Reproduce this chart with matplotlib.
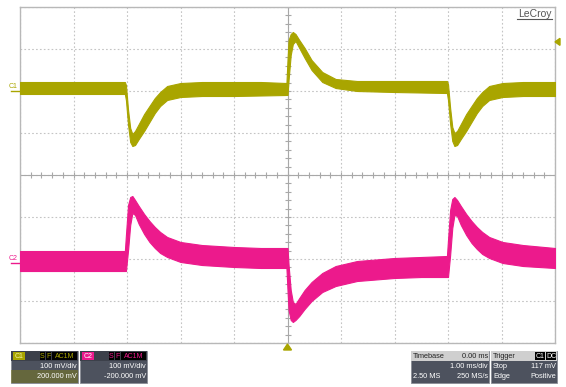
import matplotlib
matplotlib.use("Agg")
import matplotlib.pyplot as plt
from matplotlib.patches import Rectangle, Polygon
import numpy as np

plt.rcParams['font.family'] = ['Liberation Sans', 'DejaVu Sans']

# time (ms), shared by both channels
t_ms = [-5.0, -3.04, -3.02, -2.98, -2.94, -2.90, -2.85, -2.78, -2.68, -2.58, -2.48, -2.38, -2.25, -2.0, -1.6, -1.0, -0.5,
        -0.02, 0.0, 0.02, 0.06, 0.10, 0.15, 0.22, 0.32, 0.45, 0.65, 0.9, 1.3, 2.0, 2.5,
        2.98, 3.0, 3.04, 3.08, 3.12, 3.17, 3.24, 3.34, 3.44, 3.54, 3.64, 3.77, 4.02, 4.4, 5.0]

# C1 noise band, upper / lower edge (mV)
c1_up = [21.4, 21.4, 14.3, -45.2, -88.1, -102.4, -95.2, -78.6, -54.8, -35.7, -16.7, -2.4, 11.9, 19.0, 21.4, 21.4, 21.4,
         19.0, 73.8, 121.4, 135.7, 140.5, 135.7, 121.4, 102.4, 73.8, 45.2, 28.6, 23.8, 23.8, 23.8,
         23.8, 16.7, -40.5, -85.7, -100.0, -95.2, -78.6, -54.8, -35.7, -16.7, -2.4, 11.9, 19.0, 21.4, 21.4]
c1_lo = [-7.1, -7.1, -21.4, -81.0, -121.4, -131.0, -128.6, -114.3, -95.2, -73.8, -52.4, -35.7, -21.4, -14.3, -11.9, -11.9, -10.7,
         -9.5, -9.5, 26.2, 85.7, 111.9, 119.0, 102.4, 78.6, 50.0, 21.4, 7.1, 0.0, -2.4, -3.6,
         -4.8, -21.4, -78.6, -119.0, -131.0, -128.6, -114.3, -95.2, -73.8, -52.4, -35.7, -21.4, -14.3, -11.9, -11.9]

# C2 noise band, upper / lower edge (mV)
c2_up = [19.0, 19.0, 57.1, 128.6, 147.6, 150.0, 140.5, 126.2, 107.1, 90.5, 76.2, 64.3, 52.4, 40.5, 33.3, 28.6, 26.2,
         26.2, 26.2, -14.3, -73.8, -102.4, -107.1, -92.9, -73.8, -54.8, -33.3, -16.7, -4.8, 2.4, 4.8,
         7.1, 45.2, 116.7, 142.9, 147.6, 140.5, 126.2, 107.1, 90.5, 76.2, 64.3, 52.4, 40.5, 33.3, 26.2]
c2_lo = [-28.6, -28.6, -28.6, 21.4, 81.0, 109.5, 104.8, 83.3, 59.5, 40.5, 26.2, 14.3, 4.8, -7.1, -14.3, -19.0, -21.4,
         -21.4, -73.8, -121.4, -145.2, -150.0, -145.2, -135.7, -119.0, -100.0, -78.6, -64.3, -52.4, -45.2, -42.9,
         -42.9, -42.9, 9.5, 73.8, 104.8, 102.4, 81.0, 57.1, 38.1, 23.8, 11.9, 2.4, -9.5, -16.7, -21.4]

c1_offset = 200   # mV
c2_offset = -200  # mV
trig_level = 117  # mV

yellow = '#a9a500'
pink = '#ec1a8c'

W, H = 566, 387
fig = plt.figure(figsize=(W / 100, H / 100), dpi=100)
fig.patch.set_facecolor('white')

ax = fig.add_axes([20 / W, 44 / H, 535 / W, 336 / H])
ax.set_xlim(-5, 5)
ax.set_ylim(-400, 400)
ax.set_xticks(np.arange(-5, 6, 1))
ax.set_yticks(np.arange(-400, 401, 100))
ax.tick_params(length=0, labelbottom=False, labelleft=False)
ax.grid(True, color='#c4c4c4', linestyle=(0, (1.5, 2)), linewidth=0.8)
for s in ax.spines.values():
    s.set_color('#b8b8b8')
    s.set_linewidth(1.0)

# centre cross with small ticks
ax.axhline(0, color='#a8a8a8', lw=0.8)
ax.axvline(0, color='#a8a8a8', lw=0.8)
xt = np.arange(-5, 5.01, 0.2)
ax.plot(xt, np.zeros_like(xt), ls='none', marker='|', ms=4, mew=0.8, color='#a8a8a8')
yt = np.arange(-400, 401, 20)
ax.plot(np.zeros_like(yt), yt, ls='none', marker='_', ms=4, mew=0.8, color='#a8a8a8')

t = np.array(t_ms)
ax.fill_between(t, np.array(c1_up) + c1_offset, np.array(c1_lo) + c1_offset,
                color=yellow, lw=0.8, zorder=3)
ax.fill_between(t, np.array(c2_up) + c2_offset, np.array(c2_lo) + c2_offset,
                color=pink, lw=0.8, zorder=3)

# overlay in pixel coordinates for the scope furniture
ov = fig.add_axes([0, 0, 1, 1], zorder=5)
ov.set_xlim(0, W)
ov.set_ylim(H, 0)
ov.axis('off')
ov.patch.set_alpha(0)

ov.text(552, 14, 'LeCroy', fontsize=7.5, color='#555555', ha='right', va='center')
ov.plot([517, 552], [19, 19], color='#555555', lw=0.8)

# channel ground markers
ov.text(9, 86, 'C1', fontsize=5, color=yellow, va='center', ha='left')
ov.plot([11, 20], [91, 91], color=yellow, lw=1)
ov.text(9, 258, 'C2', fontsize=5, color=pink, va='center', ha='left')
ov.plot([11, 20], [263, 263], color=pink, lw=1)

# trigger markers
y_trig = 7 + (400 - (trig_level + c1_offset)) * 336 / 800
ov.add_patch(Polygon([[560, y_trig - 3.5], [560, y_trig + 3.5], [555, y_trig]], color=yellow))
ov.add_patch(Polygon([[283.5, 350], [291.5, 350], [287.5, 344]], color=yellow))


def box(x0, x1, header_bg):
    ov.add_patch(Rectangle((x0, 351), x1 - x0, 32, facecolor='#4d525e', edgecolor='#8a8d95', lw=0.6))
    ov.add_patch(Rectangle((x0, 351), x1 - x0, 10, facecolor=header_bg, edgecolor='none'))


def badge(x, y, s, fg, bg, w):
    ov.add_patch(Rectangle((x, y - 4), w, 8, facecolor=bg, edgecolor='none'))
    ov.text(x + w / 2, y, s, fontsize=5, color=fg, ha='center', va='center')


fs = 5.3
# C1 box
box(11, 78, '#3c404a')
ov.add_patch(Rectangle((11, 370), 67, 13, facecolor='#7a7a22', alpha=0.55, edgecolor='none'))
badge(13, 356, 'C1', '#f2f2a0', yellow, 12)
badge(40, 356, 'S', yellow, 'black', 5)
badge(46, 356, 'F', yellow, 'black', 5)
badge(52, 356, 'AC1M', yellow, 'black', 25)
ov.text(77, 366, '100 mV/div', fontsize=fs, color='white', ha='right', va='center')
ov.text(77, 377, '200.000 mV', fontsize=fs, color='white', ha='right', va='center')

# C2 box
box(80, 147, '#3c404a')
badge(82, 356, 'C2', 'white', pink, 12)
badge(109, 356, 'S', pink, 'black', 5)
badge(115, 356, 'F', pink, 'black', 5)
badge(121, 356, 'AC1M', pink, 'black', 25)
ov.text(146, 366, '100 mV/div', fontsize=fs, color='white', ha='right', va='center')
ov.text(146, 377, '-200.000 mV', fontsize=fs, color='white', ha='right', va='center')

# Timebase box
box(411, 489, '#cfcfcf')
ov.text(413, 356, 'Timebase', fontsize=fs, color='#222222', ha='left', va='center')
ov.text(488, 356, '0.00 ms', fontsize=fs, color='#222222', ha='right', va='center')
ov.text(488, 366, '1.00 ms/div', fontsize=fs, color='white', ha='right', va='center')
ov.text(413, 376, '2.50 MS', fontsize=fs, color='white', ha='left', va='center')
ov.text(488, 376, '250 MS/s', fontsize=fs, color='white', ha='right', va='center')

# Trigger box
box(491, 557, '#cfcfcf')
ov.text(493, 356, 'Trigger', fontsize=fs, color='#222222', ha='left', va='center')
badge(535, 356, 'C1', 'white', 'black', 10)
badge(546, 356, 'DC', 'white', 'black', 10)
ov.text(493, 366, 'Stop', fontsize=fs, color='white', ha='left', va='center')
ov.text(556, 366, '117 mV', fontsize=fs, color='white', ha='right', va='center')
ov.text(493, 376, 'Edge', fontsize=fs, color='white', ha='left', va='center')
ov.text(556, 376, 'Positive', fontsize=fs, color='white', ha='right', va='center')

fig.savefig('out.png', dpi=100)
